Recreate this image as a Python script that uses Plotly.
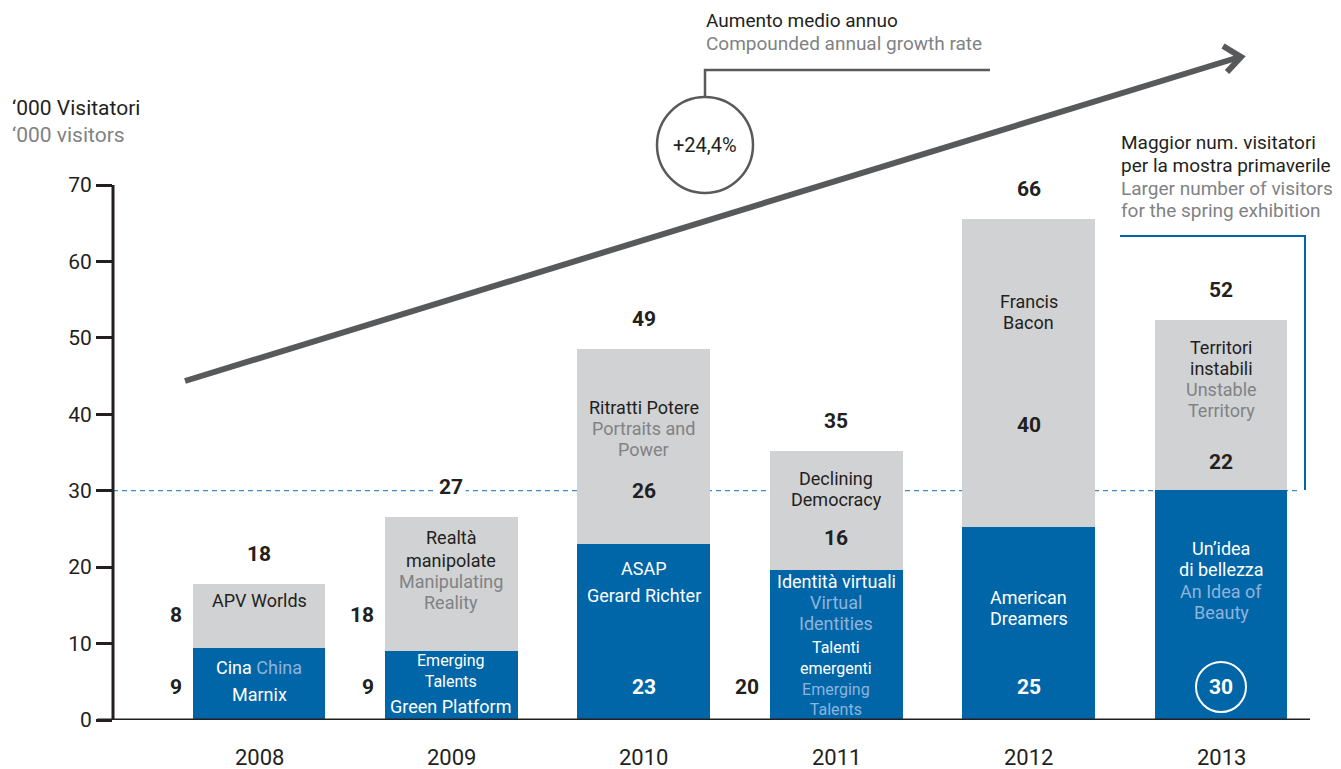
import plotly.graph_objects as go

# ---- data -------------------------------------------------------------
years = ["2008", "2009", "2010", "2011", "2012", "2013"]
# thousands of visitors: lower (blue) and upper (grey) exhibitions of each year
blue_values = [9.4, 9.0, 23.0, 19.6, 25.2, 30.1]
gray_values = [8.4, 17.6, 25.6, 15.6, 40.4, 22.3]
y_ticks = [0, 10, 20, 30, 40, 50, 60, 70]
spring_record = 30          # reference level: largest spring exhibition
cagr_text = "+24,4%"

# ---- styling ----------------------------------------------------------
FONT = "Roboto"
DARK = "#231f20"
GREY_TXT = "#808285"
BLUE = "#0066a8"
GREY_BAR = "#d1d2d4"
LIGHT = "#8fb3da"
WHITE = "#ffffff"
ARROW = "#58595b"

W, H = 1341, 769
L_M, B_M = 113, 49
PLOT_W, PLOT_H = W - L_M, H - B_M
STEP = 192.4                 # px per category
X0_PX = 259                  # px of first category
PX_PER_UNIT = 535 / 70       # px per thousand visitors
BAR_W = 0.69

x_pos = list(range(len(years)))
x_range = [-(X0_PX - L_M) / STEP, (W - X0_PX) / STEP]
y_range = [0, PLOT_H / PX_PER_UNIT]


def px_x(px):
    return (px - L_M) / PLOT_W


def px_y(py):
    return (PLOT_H - py) / PLOT_H


def dy(py):
    return (PLOT_H - py) / PX_PER_UNIT


def span(text, color):
    return f"<span style='color:{color}'>{text}</span>"


fig = go.Figure()
fig.add_trace(go.Bar(x=x_pos, y=blue_values, width=BAR_W, marker_color=BLUE,
                     marker_line_width=0, name="blue"))
fig.add_trace(go.Bar(x=x_pos, y=gray_values, width=BAR_W, marker_color=GREY_BAR,
                     marker_line_width=0, name="grey"))

annotations = []
shapes = []

# exhibition names written inside the bars: (bar, centre px, text, colour, size)
bar_lines = [
    (0, 600, "APV Worlds", DARK, 18),
    (0, 667, "Cina " + span("China", LIGHT), WHITE, 18),
    (0, 694, "Marnix", WHITE, 18),
    (1, 537, "Realtà", DARK, 18), (1, 560, "manipolate", DARK, 18),
    (1, 581, "Manipulating", GREY_TXT, 18), (1, 602, "Reality", GREY_TXT, 18),
    (1, 671, "Emerging<br>Talents", WHITE, 16),
    (1, 706, "Green Platform", WHITE, 18),
    (2, 407, "Ritratti Potere", DARK, 18),
    (2, 428, "Portraits and", GREY_TXT, 18), (2, 449, "Power", GREY_TXT, 18),
    (2, 568, "ASAP", WHITE, 18), (2, 595, "Gerard Richter", WHITE, 18),
    (3, 478, "Declining", DARK, 18), (3, 499, "Democracy", DARK, 18),
    (3, 581, "Identità virtuali", WHITE, 18),
    (3, 602, "Virtual", LIGHT, 18), (3, 623, "Identities", LIGHT, 18),
    (3, 678, "Talenti<br>emergenti<br>" + span("Emerging", LIGHT) + "<br>"
     + span("Talents", LIGHT), WHITE, 16),
    (4, 301, "Francis", DARK, 18), (4, 322, "Bacon", DARK, 18),
    (4, 597, "American", WHITE, 18), (4, 618, "Dreamers", WHITE, 18),
    (5, 347, "Territori", DARK, 18), (5, 368, "instabili", DARK, 18),
    (5, 389, "Unstable", GREY_TXT, 18), (5, 410, "Territory", GREY_TXT, 18),
    (5, 548, "Un’idea", WHITE, 18), (5, 569, "di bellezza", WHITE, 18),
    (5, 591, "An Idea of", LIGHT, 18), (5, 612, "Beauty", LIGHT, 18),
]
for i, py, txt, col, size in bar_lines:
    annotations.append(dict(x=i, y=dy(py), xref="x", yref="y", text=txt,
                            showarrow=False, xanchor="center", yanchor="middle",
                            font=dict(family=FONT, size=size, color=col)))

# value labels
gray_label_py = [615, 615, 491, 538, 425, 462]
gray_inside = [False, False, True, True, True, True]
blue_label_py = [687] * 6
blue_inside = [False, False, True, False, True, True]
outside_x = BAR_W / 2 + 9 / STEP

for i in x_pos:
    g = f"<b>{gray_values[i]:.0f}</b>"
    b = f"<b>{blue_values[i]:.0f}</b>"
    t = f"<b>{blue_values[i] + gray_values[i]:.0f}</b>"
    if gray_inside[i]:
        annotations.append(dict(x=i, y=dy(gray_label_py[i]), xref="x", yref="y", text=g,
                                showarrow=False, xanchor="center", yanchor="middle",
                                font=dict(family=FONT, size=21, color=DARK)))
    else:
        annotations.append(dict(x=i - outside_x, y=dy(gray_label_py[i]), xref="x", yref="y",
                                text=g, showarrow=False, xanchor="right", yanchor="middle",
                                font=dict(family=FONT, size=21, color=DARK)))
    if blue_inside[i]:
        annotations.append(dict(x=i, y=dy(blue_label_py[i]), xref="x", yref="y", text=b,
                                showarrow=False, xanchor="center", yanchor="middle",
                                font=dict(family=FONT, size=21, color=WHITE)))
    else:
        annotations.append(dict(x=i - outside_x, y=dy(blue_label_py[i]), xref="x", yref="y",
                                text=b, showarrow=False, xanchor="right", yanchor="middle",
                                font=dict(family=FONT, size=21, color=DARK)))
    # total above the bar
    annotations.append(dict(x=i, y=blue_values[i] + gray_values[i] + 30 / PX_PER_UNIT,
                            xref="x", yref="y", text=t, showarrow=False,
                            xanchor="center", yanchor="middle", bgcolor=WHITE,
                            borderpad=2,
                            font=dict(family=FONT, size=21, color=DARK)))
    # year label
    annotations.append(dict(x=i, y=px_y(757), xref="x", yref="paper", text=years[i],
                            showarrow=False, xanchor="center", yanchor="middle",
                            font=dict(family=FONT, size=22, color=DARK)))

# circled value of the record spring exhibition
r_px = 25
shapes.append(dict(type="circle", xref="x", yref="y",
                   x0=5 - r_px / STEP, x1=5 + r_px / STEP,
                   y0=dy(687 + r_px), y1=dy(687 - r_px),
                   line=dict(color=WHITE, width=2)))

# y-axis title
annotations += [
    dict(x=px_x(10), y=px_y(108), xref="paper", yref="paper", text="‘000 Visitatori",
         showarrow=False, xanchor="left", yanchor="middle",
         font=dict(family=FONT, size=21, color=DARK)),
    dict(x=px_x(10), y=px_y(135), xref="paper", yref="paper", text="‘000 visitors",
         showarrow=False, xanchor="left", yanchor="middle",
         font=dict(family=FONT, size=21, color=GREY_TXT)),
]

# growth-rate callout
annotations += [
    dict(x=px_x(704), y=px_y(20), xref="paper", yref="paper", text="Aumento medio annuo",
         showarrow=False, xanchor="left", yanchor="middle",
         font=dict(family=FONT, size=19, color=DARK)),
    dict(x=px_x(704), y=px_y(43), xref="paper", yref="paper",
         text="Compounded annual growth rate", showarrow=False, xanchor="left",
         yanchor="middle", font=dict(family=FONT, size=19, color=GREY_TXT)),
    dict(x=px_x(705), y=px_y(145), xref="paper", yref="paper", text=cagr_text,
         showarrow=False, xanchor="center", yanchor="middle",
         font=dict(family=FONT, size=20, color=DARK)),
]

# spring exhibition note
note_lines = [("Maggior num. visitatori", DARK, 143),
              ("per la mostra primaverile", DARK, 166),
              ("Larger number of visitors", GREY_TXT, 189),
              ("for the spring exhibition", GREY_TXT, 211)]
for txt, col, py in note_lines:
    annotations.append(dict(x=px_x(1119), y=px_y(py), xref="paper", yref="paper",
                            text=txt, showarrow=False, xanchor="left", yanchor="middle",
                            font=dict(family=FONT, size=19, color=col)))

# axes drawn as lines
shapes += [
    dict(type="line", xref="paper", yref="y", x0=0, x1=0, y0=0, y1=70,
         line=dict(color=DARK, width=3)),
    dict(type="line", xref="paper", yref="y", x0=px_x(97), x1=px_x(1310), y0=0, y1=0,
         line=dict(color=DARK, width=3)),
    # reference level
    dict(type="line", xref="paper", yref="y", x0=0, x1=px_x(1297),
         y0=spring_record, y1=spring_record, layer="below",
         line=dict(color="#3b8ad0", width=1.2, dash="5px,4px")),
    # bracket to the note
    dict(type="path", xref="paper", yref="paper",
         path=f"M {px_x(1120)},{px_y(236)} L {px_x(1305)},{px_y(236)} L {px_x(1305)},{px_y(490)}",
         line=dict(color=BLUE, width=2)),
    # trend arrow
    dict(type="line", xref="paper", yref="paper", x0=px_x(185), y0=px_y(381),
         x1=px_x(1238), y1=px_y(57.5), line=dict(color=ARROW, width=6)),
    dict(type="path", xref="paper", yref="paper",
         path=f"M {px_x(1223)},{px_y(46)} L {px_x(1241)},{px_y(57)} L {px_x(1227)},{px_y(72)}",
         line=dict(color=ARROW, width=6)),
    # callout circle and leader
    dict(type="circle", xref="paper", yref="paper", x0=px_x(657), x1=px_x(753),
         y0=px_y(193), y1=px_y(97), fillcolor=WHITE, line=dict(color=ARROW, width=2.5)),
    dict(type="path", xref="paper", yref="paper",
         path=f"M {px_x(705)},{px_y(97)} L {px_x(705)},{px_y(70)} L {px_x(990)},{px_y(70)}",
         line=dict(color=ARROW, width=2.5)),
]

fig.update_layout(
    width=W, height=H, autosize=False,
    margin=dict(l=L_M, r=0, t=0, b=B_M, pad=0),
    barmode="stack", showlegend=False,
    paper_bgcolor=WHITE, plot_bgcolor="rgba(0,0,0,0)",
    font=dict(family=FONT, color=DARK),
    xaxis=dict(range=x_range, showgrid=False, zeroline=False, showticklabels=False,
               showline=False, ticks=""),
    yaxis=dict(range=y_range, tickvals=y_ticks, showgrid=False, zeroline=False,
               showline=False, ticks="outside", ticklen=16, tickwidth=2.5,
               tickcolor=DARK, tickfont=dict(family=FONT, size=21, color=DARK)),
    annotations=annotations,
    shapes=shapes,
)

fig.write_html("out.html")
